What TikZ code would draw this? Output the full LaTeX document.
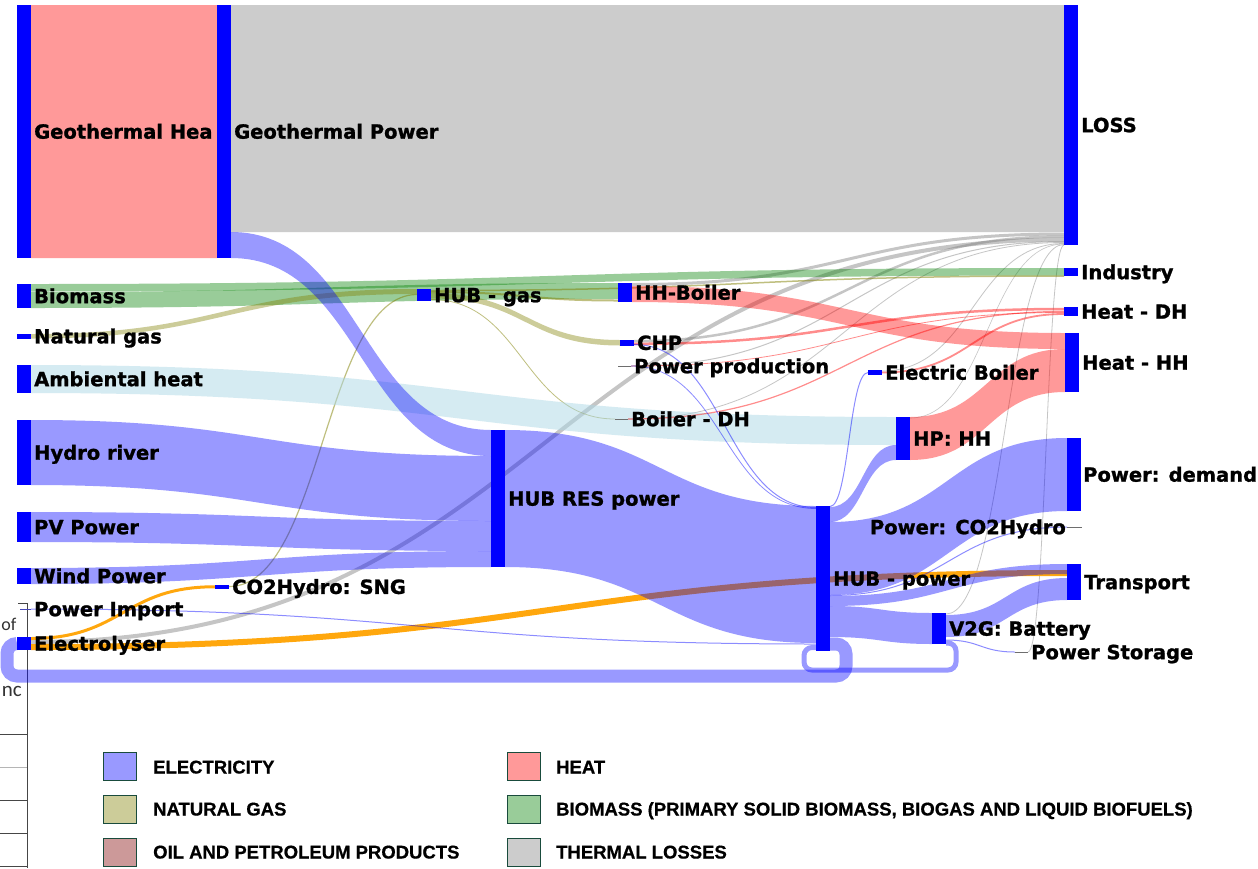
\documentclass[tikz,border=0pt]{standalone}
\usepackage{fontspec}
\usetikzlibrary{calc}
\newfontfamily\lblfamily{DejaVu Sans Bold}[FakeBold=1.2]
\newfontfamily\legfamily{Liberation Sans Bold}[FakeBold=0.6]
\newfontfamily\tabfamily{Carlito}

\definecolor{biogreen}{RGB}{0,128,0}
\definecolor{gasolive}{RGB}{128,128,0}
\definecolor{lossgray}{RGB}{128,128,128}
\definecolor{ambblue}{RGB}{173,216,230}
\definecolor{oilorange}{RGB}{255,163,0}
\definecolor{tickgray}{RGB}{110,110,110}
\definecolor{legelec}{RGB}{153,153,255}
\definecolor{leggas}{RGB}{204,204,153}
\definecolor{legoil}{RGB}{204,153,153}
\definecolor{legheat}{RGB}{255,153,153}
\definecolor{legbio}{RGB}{153,204,153}
\definecolor{legloss}{RGB}{204,204,204}
\definecolor{legframe}{RGB}{25,75,60}
\definecolor{tabline}{RGB}{70,70,70}

% Sankey band: source node, top/bottom offsets on its right side,
% target node, top/bottom offsets on its left side, fill style
\newcommand\flowband[7]{%
  \fill[#7] let \p1=($(#1.north east)+(0,#2)$), \p2=($(#1.north east)+(0,#3)$),
    \p3=($(#4.north west)+(0,#5)$), \p4=($(#4.north west)+(0,#6)$),
    \p5=($(\p1)!0.5!(\p3)$) in
    (\p1) .. controls (\x5,\y1) and (\x5,\y3) .. (\p3) -- (\p4)
    .. controls (\x5,\y4) and (\x5,\y2) .. (\p2) -- cycle;}
% Thin Sankey link drawn as a single curve
\newcommand\flowline[5]{%
  \draw[#5] let \p1=($(#1.north east)+(0,#2)$), \p3=($(#3.north west)+(0,#4)$),
    \p5=($(\p1)!0.5!(\p3)$) in
    (\p1) .. controls (\x5,\y1) and (\x5,\y3) .. (\p3);}

\tikzset{
  bar/.style={draw=none, inner sep=0pt, outer sep=0pt,
    minimum width=14pt, anchor=north west},
  tick/.style={draw=none, inner sep=0pt, outer sep=0pt,
    minimum height=1pt, anchor=north west},
  lbl/.style={anchor=west, inner sep=0pt, xshift=3pt,
    font=\lblfamily\fontsize{19.5}{22}\selectfont,
    text height=14.3pt, text depth=0pt},
  lblleft/.style={lbl, anchor=east, xshift=-4pt},
  elecf/.style={fill=blue, fill opacity=0.4},
  heatf/.style={fill=red, fill opacity=0.4},
  biof/.style={fill=biogreen, fill opacity=0.4},
  gasf/.style={fill=gasolive, fill opacity=0.4},
  lossf/.style={fill=lossgray, fill opacity=0.4},
  ambf/.style={fill=ambblue, fill opacity=0.5},
  elecl/.style={draw=blue, draw opacity=0.45, line width=1pt},
  heatl/.style={draw=red, draw opacity=0.45, line width=1.5pt},
  gasl/.style={draw=gasolive, draw opacity=0.5, line width=1.2pt},
  lossl/.style={draw=lossgray, draw opacity=0.45, line width=1pt},
  oill/.style={draw=oilorange, draw opacity=0.95},
  elecloop/.style={draw=blue, draw opacity=0.4},
  legbox/.style={draw=legframe, line width=1.4pt, inner sep=0pt,
    minimum width=33pt, minimum height=28pt, anchor=north west},
  legtxt/.style={anchor=west, inner sep=0pt,
    font=\legfamily\fontsize{18.5}{22}\selectfont,
    text height=13pt, text depth=0pt},
  tabtxt/.style={anchor=base east, inner sep=0pt, text=black!80},
}

\begin{document}
\begin{tikzpicture}[x=1pt, y=-1pt]
\useasboundingbox (0,0) rectangle (1258,868);
\fill[white] (0,0) rectangle (1258,868);

% ---------- nodes (bars are filled at the end) ----------
\node[bar, minimum height=253pt] (geoH) at (17,5) {};
\node[bar, minimum height=24pt]  (biom) at (17,284) {};
\node[bar, minimum height=4.5pt] (ngas) at (17,334) {};
\node[bar, minimum height=28pt]  (amb)  at (17,365) {};
\node[bar, minimum height=65pt]  (hydro) at (17,420) {};
\node[bar, minimum height=30pt]  (pv)   at (17,512) {};
\node[bar, minimum height=16pt]  (wind) at (17,568) {};
\node[tick, minimum width=11pt]  (pimp) at (20,608.5) {};
\node[bar, minimum height=13pt]  (elyz) at (17,637) {};

\node[bar, minimum height=253pt] (geoP) at (217,5) {};
\node[bar, minimum height=3.5pt] (sng)  at (215,585) {};
\node[bar, minimum height=12pt]  (hubgas) at (417,289) {};
\node[bar, minimum height=137pt] (hubres) at (491,430) {};

\node[bar, minimum height=19pt]  (hhb)  at (618,283) {};
\node[bar, minimum height=5.5pt] (chp)  at (620,340) {};
\node[tick, minimum width=13pt]  (pprod) at (618,365.5) {};
\node[tick, minimum width=13pt]  (bdh)  at (615,418.5) {};
\node[bar, minimum height=5pt]   (eboil) at (868,370) {};
\node[bar, minimum height=43pt]  (hphh) at (896,417) {};
\node[bar, minimum height=145pt] (hubP) at (816,506) {};
\node[bar, minimum height=31pt]  (v2g)  at (932,613) {};
\node[tick, minimum width=15pt]  (co2p) at (1067,526.5) {};
\node[tick, minimum width=13pt]  (pstor) at (1015,651.5) {};

\node[bar, minimum height=240pt] (loss) at (1064,5) {};
\node[bar, minimum height=8pt]   (ind)  at (1064,268) {};
\node[bar, minimum height=9pt]   (hdh)  at (1064,307) {};
\node[bar, minimum height=59pt]  (hhh)  at (1065,333) {};
\node[bar, minimum height=73pt]  (pdem) at (1067,438) {};
\node[bar, minimum height=36pt]  (trans) at (1067,564) {};

% ---------- table edge at the left ----------
\draw[tabline, line width=1pt] (18,603) -- (27,603) -- (27,868);
\foreach \yy in {734,800,833,866} \draw[tabline, line width=1pt] (0,\yy) -- (27,\yy);
\draw[tabline!40, line width=1pt] (0,767) -- (27,767);
\node[tabtxt, font=\tabfamily\fontsize{18}{20}\selectfont] (tabof) at (16.5,630) {of};
\node[tabtxt, font=\tabfamily\fontsize{21}{24}\selectfont] (tabnc) at (22,696) {nc};

% ---------- large primary flows ----------
\flowband{geoH}{0}{253}{geoP}{0}{253}{heatf}
\flowband{geoP}{0}{227}{loss}{0}{227}{lossf}

% ---------- thermal losses ----------
\flowline{hhb}{1.5}{loss}{229}{lossl, line width=3pt}
\flowline{chp}{1.2}{loss}{231.5}{lossl, line width=2.5pt}
\flowline{pprod}{0.5}{loss}{236.5}{lossl}
\flowline{bdh}{0.5}{loss}{237.5}{lossl, line width=0.8pt}
\flowline{eboil}{1}{loss}{238.5}{lossl, line width=0.8pt}
\flowline{hphh}{1}{loss}{239}{lossl, line width=0.6pt}
\flowline{v2g}{1}{loss}{239.5}{lossl, line width=0.8pt}
\flowline{pstor}{0.5}{loss}{240}{lossl, line width=0.8pt}
\flowline{elyz}{5}{loss}{234.5}{lossl, line width=4pt}

% ---------- biomass and gas ----------
\flowband{biom}{0}{7.5}{ind}{0}{7.5}{biof}
\flowband{biom}{8}{24}{hhb}{0}{16}{biof}
\flowband{ngas}{0}{4.5}{hubgas}{0}{5}{gasf}
\flowline{sng}{1.5}{hubgas}{5.5}{gasl}
\flowline{hubgas}{1.5}{ind}{8}{gasl, line width=1.5pt}
\flowline{hubgas}{3}{hhb}{17.5}{gasl, line width=2pt}
\flowband{hubgas}{4}{9.5}{chp}{0}{5.5}{gasf}
\flowline{hubgas}{10.5}{bdh}{0.5}{gasl, line width=0.8pt}

% ---------- ambient heat ----------
\flowband{amb}{0}{28}{hphh}{0}{28}{ambf}

% ---------- heat ----------
\flowband{hhb}{3}{19}{hhh}{0}{16}{heatf}
\flowband{hphh}{0}{43}{hhh}{16}{59}{heatf}
\flowline{chp}{3.8}{hdh}{2}{heatl, line width=2.5pt}
\flowline{bdh}{0.5}{hdh}{4.5}{heatl, line width=1.2pt}
\flowline{pprod}{0.5}{hdh}{5.5}{heatl, line width=0.8pt}
\flowline{eboil}{2.5}{hdh}{7}{heatl, line width=1.8pt}

% ---------- hydrogen / fuels ----------
\flowline{elyz}{1.5}{sng}{1.75}{oill, line width=3pt}
\flowline{elyz}{10}{trans}{9}{oill, line width=6pt}

% ---------- electricity ----------
\flowband{geoP}{227}{253}{hubres}{0}{26}{elecf}
\flowband{hydro}{0}{65}{hubres}{26}{91}{elecf}
\flowband{pv}{0}{30}{hubres}{91}{121}{elecf}
\flowband{wind}{0}{16}{hubres}{121}{137}{elecf}
\flowband{hubres}{0}{137}{hubP}{0}{137}{elecf}
\flowline{pimp}{0.5}{hubP}{138}{elecl}
\flowline{chp}{4.5}{hubP}{1.5}{elecl}
\flowline{pprod}{0.5}{hubP}{2.5}{elecl, line width=0.8pt}
\flowline{hubP}{0.5}{eboil}{2.5}{elecl}
\flowband{hubP}{1}{16}{hphh}{28}{43}{elecf}
\flowband{hubP}{16}{89}{pdem}{0}{73}{elecf}
\flowline{hubP}{89.5}{co2p}{0.5}{elecl}
\flowband{hubP}{90}{100}{trans}{0}{10}{elecf}
\flowband{hubP}{100}{131}{v2g}{0}{31}{elecf}
\flowband{v2g}{2}{24}{trans}{14}{36}{elecf}
\flowline{v2g}{27}{pstor}{0.5}{elecl}
\draw[elecloop, line width=13pt, rounded corners=10pt]
  ($(hubP.north east)+(0,138)$) -- ++(16,0)
  |- ($(elyz.north west)+(-10,39)$) |- ($(elyz.north west)+(0,6.5)$);
\draw[elecloop, line width=5pt, rounded corners=8pt]
  ($(v2g.north east)+(0,30)$) -- ++(10,0)
  |- ($(hubP.north west)+(-12,164)$) |- ($(hubP.north west)+(0,141.5)$);

% ---------- labels ----------
\begin{scope}
  \clip (geoH.north east) rectangle ($(geoP.south west)+(-6,0)$);
  \node[lbl] (tgeoH) at (geoH.east) {Geothermal Heat};
\end{scope}
\node[lbl] (tgeoP) at (geoP.east) {Geothermal Power};
\node[lbl] (tbiom) at (biom.east) {Biomass};
\node[lbl] (tngas) at (ngas.east) {Natural gas};
\node[lbl] (tamb) at (amb.east) {Ambiental heat};
\node[lbl] (thydro) at (hydro.east) {Hydro river};
\node[lbl] (tpv) at (pv.east) {PV Power};
\node[lbl] (twind) at (wind.east) {Wind Power};
\node[lbl] (tpimp) at (pimp.east) {Power Import};
\node[lbl] (telyz) at (elyz.east) {Electrolyser};
\node[lbl] (tsng) at (sng.east) {CO2Hydro: SNG};
\node[lbl] (thubgas) at (hubgas.east) {HUB - gas};
\node[lbl] (thubres) at (hubres.east) {HUB RES power};
\node[lbl] (thhb) at (hhb.east) {HH-Boiler};
\node[lbl] (tchp) at (chp.east) {CHP};
\node[lbl] (tpprod) at (pprod.east) {Power production};
\node[lbl] (tbdh) at (bdh.east) {Boiler - DH};
\node[lbl] (teboil) at (eboil.east) {Electric Boiler};
\node[lbl] (thphh) at (hphh.east) {HP: HH};
\node[lbl] (thubP) at (hubP.east) {HUB - power};
\node[lbl] (tv2g) at (v2g.east) {V2G: Battery};
\node[lblleft] (tco2p) at (co2p.west) {Power: CO2Hydro};
\node[lbl] (tpstor) at (pstor.east) {Power Storage};
\node[lbl] (tloss) at (loss.east) {LOSS};
\node[lbl] (tind) at (ind.east) {Industry};
\node[lbl] (thdh) at (hdh.east) {Heat - DH};
\node[lbl] (thhh) at (hhh.east) {Heat - HH};
\node[lbl, xshift=-1pt] (tpdem) at (pdem.east) {Power: demand};
\node[lbl] (ttrans) at (trans.east) {Transport};

% ---------- bars on top of flows and labels ----------
\foreach \n in {geoH,biom,ngas,amb,hydro,pv,wind,elyz,geoP,sng,hubgas,hubres,
    hhb,chp,eboil,hphh,hubP,v2g,loss,ind,hdh,hhh,pdem,trans}
  \fill[blue] (\n.north west) rectangle (\n.south east);
\foreach \n in {pprod,bdh,co2p,pstor}
  \fill[tickgray] (\n.north west) rectangle (\n.south east);
\fill[blue!45!gray] (pimp.north west) rectangle (pimp.south east);

% ---------- legend ----------
\node[legbox, fill=legelec] (lgelec) at (103,752) {};
\node[legbox, fill=leggas]  (lggas)  at (103,795) {};
\node[legbox, fill=legoil]  (lgoil)  at (103,838) {};
\node[legbox, fill=legheat] (lgheat) at (507,752) {};
\node[legbox, fill=legbio]  (lgbio)  at (507,795) {};
\node[legbox, fill=legloss] (lgloss) at (507,838) {};
\node[legtxt] (ltelec) at (153,767) {ELECTRICITY};
\node[legtxt] (ltgas)  at (153,809) {NATURAL GAS};
\node[legtxt] (ltoil)  at (153,852) {OIL AND PETROLEUM PRODUCTS};
\node[legtxt] (ltheat) at (556,767) {HEAT};
\node[legtxt] (ltbio)  at (556,809) {BIOMASS (PRIMARY SOLID BIOMASS, BIOGAS AND LIQUID BIOFUELS)};
\node[legtxt] (ltloss) at (556,852) {THERMAL LOSSES};
\end{tikzpicture}
\end{document}
